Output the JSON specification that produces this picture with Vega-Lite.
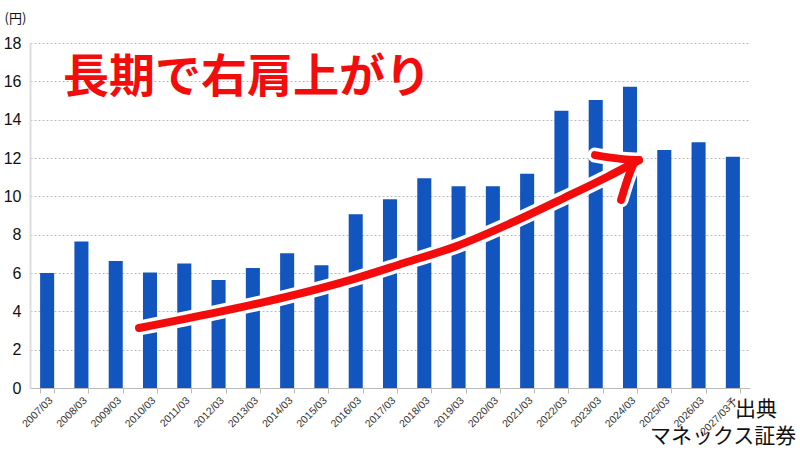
{
  "$schema": "https://vega.github.io/schema/vega-lite/v6.json",
  "width": 720,
  "height": 345,
  "autosize": "none",
  "padding": {"left": 30, "top": 43, "right": 50, "bottom": 62},
  "background": "white",
  "datasets": {
    "eps": [
      {"period": "2007/03", "v": 6.0},
      {"period": "2008/03", "v": 7.65},
      {"period": "2009/03", "v": 6.62},
      {"period": "2010/03", "v": 6.03},
      {"period": "2011/03", "v": 6.5},
      {"period": "2012/03", "v": 5.63},
      {"period": "2013/03", "v": 6.26},
      {"period": "2014/03", "v": 7.03},
      {"period": "2015/03", "v": 6.4},
      {"period": "2016/03", "v": 9.07},
      {"period": "2017/03", "v": 9.85},
      {"period": "2018/03", "v": 10.95},
      {"period": "2019/03", "v": 10.53},
      {"period": "2020/03", "v": 10.53},
      {"period": "2021/03", "v": 11.18},
      {"period": "2022/03", "v": 14.47},
      {"period": "2023/03", "v": 15.02},
      {"period": "2024/03", "v": 15.72},
      {"period": "2025/03", "v": 12.42},
      {"period": "2026/03", "v": 12.82},
      {"period": "2027/03予", "v": 12.07}
    ],
    "arrow": [
      {"part": "shaft", "ord": 1, "idx": 2.68, "v": 3.13},
      {"part": "shaft", "ord": 2, "idx": 4.98, "v": 3.96},
      {"part": "shaft", "ord": 3, "idx": 6.97, "v": 4.75},
      {"part": "shaft", "ord": 4, "idx": 8.83, "v": 5.63},
      {"part": "shaft", "ord": 5, "idx": 10.41, "v": 6.52},
      {"part": "shaft", "ord": 6, "idx": 11.95, "v": 7.41},
      {"part": "shaft", "ord": 7, "idx": 13.53, "v": 8.61},
      {"part": "shaft", "ord": 8, "idx": 15.07, "v": 9.91},
      {"part": "shaft", "ord": 9, "idx": 16.33, "v": 11.01},
      {"part": "shaft", "ord": 10, "idx": 17.26, "v": 11.89},
      {"part": "head", "ord": 1, "idx": 15.98, "v": 12.15},
      {"part": "head", "ord": 2, "idx": 17.26, "v": 11.89},
      {"part": "head", "ord": 3, "idx": 16.74, "v": 9.81}
    ],
    "notes": [
      {"label": "長期で右肩上がり", "idx": 5.83, "v": 16.17, "kind": "headline"},
      {"label": "出典", "idx": 20.06, "v": -1.15, "kind": "source"},
      {"label": "マネックス証券", "idx": 17.58, "v": -2.56, "kind": "source"}
    ]
  },
  "encoding": {
    "y": {
      "field": "v",
      "type": "quantitative",
      "title": "(円)",
      "scale": {"domain": [0, 18], "nice": false},
      "axis": {
        "values": [0, 2, 4, 6, 8, 10, 12, 14, 16, 18],
        "labelFontSize": 16,
        "labelColor": "#111111",
        "labelFont": "Liberation Sans",
        "labelPadding": 9,
        "ticks": false,
        "domainColor": "#dddddd",
        "domainWidth": 2,
        "gridColor": "#bbbbbb",
        "gridDash": [2, 2],
        "titleAngle": 0,
        "titleAlign": "left",
        "titleBaseline": "middle",
        "titleX": -26,
        "titleY": -25,
        "titleFontSize": 13,
        "titleFontWeight": "normal",
        "titleColor": "#111111",
        "titleFont": "Noto Sans CJK JP"
      }
    }
  },
  "layer": [
    {
      "data": {"name": "eps"},
      "mark": {"type": "bar", "color": "#1255BE"},
      "encoding": {
        "x": {
          "field": "period",
          "type": "ordinal",
          "sort": null,
          "scale": {"paddingInner": 0.59, "paddingOuter": 0.295},
          "axis": {
            "title": null,
            "labelAngle": -45,
            "labelFontSize": 10.5,
            "labelColor": "#333333",
            "labelFont": "Liberation Sans",
            "tickBand": "extent",
            "tickSize": 5,
            "tickColor": "#bbbbbb",
            "domainColor": "#bbbbbb",
            "grid": false
          }
        }
      }
    },
    {
      "layer": [
        {
          "data": {"name": "arrow"},
          "mark": {"type": "line", "color": "white", "strokeWidth": 15, "strokeCap": "round", "strokeJoin": "round", "interpolate": "monotone"},
          "encoding": {
            "x": {"field": "idx", "type": "quantitative", "scale": {"domain": [-0.5, 20.5], "nice": false, "zero": false}, "axis": null},
            "detail": {"field": "part"},
            "order": {"field": "ord"}
          }
        },
        {
          "data": {"name": "arrow"},
          "mark": {"type": "line", "color": "#F20C0C", "strokeWidth": 8, "strokeCap": "round", "strokeJoin": "round", "interpolate": "monotone"},
          "encoding": {
            "x": {"field": "idx", "type": "quantitative", "axis": null},
            "detail": {"field": "part"},
            "order": {"field": "ord"}
          }
        },
        {
          "data": {"name": "notes"},
          "transform": [{"filter": "datum.kind === 'headline'"}],
          "mark": {"type": "text", "color": "#F20C0C", "fontSize": 46, "fontWeight": "bold", "font": "Noto Sans CJK JP", "align": "center", "baseline": "middle"},
          "encoding": {
            "x": {"field": "idx", "type": "quantitative", "axis": null},
            "text": {"field": "label"}
          }
        },
        {
          "data": {"name": "notes"},
          "transform": [{"filter": "datum.kind === 'source'"}],
          "mark": {"type": "text", "color": "#111111", "fontSize": 21, "font": "Noto Sans CJK JP", "align": "left", "baseline": "middle"},
          "encoding": {
            "x": {"field": "idx", "type": "quantitative", "axis": null},
            "text": {"field": "label"}
          }
        }
      ]
    }
  ],
  "resolve": {"scale": {"x": "independent"}},
  "config": {
    "view": {"stroke": null}
  }
}
